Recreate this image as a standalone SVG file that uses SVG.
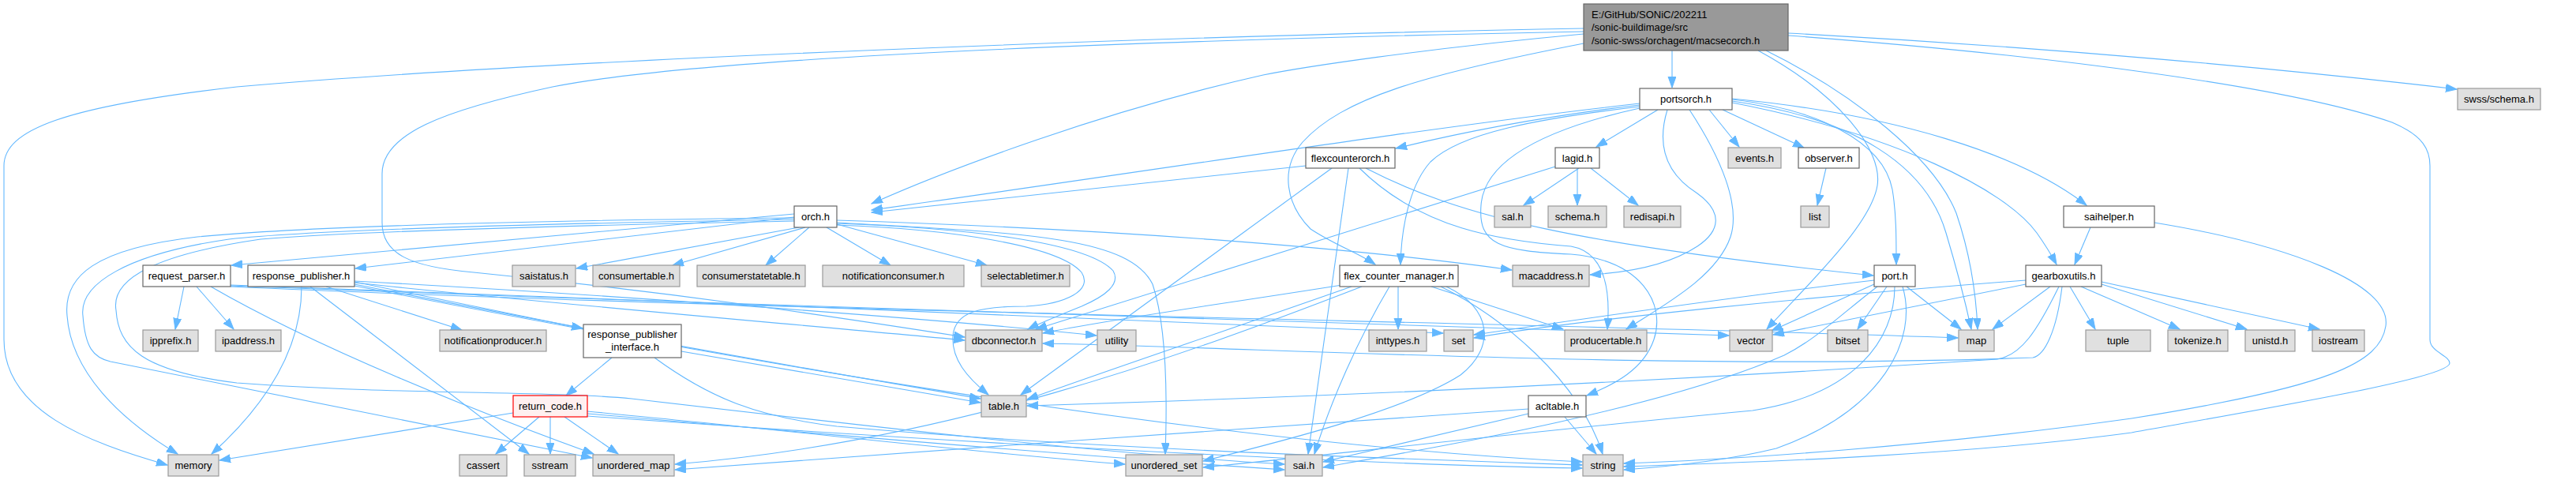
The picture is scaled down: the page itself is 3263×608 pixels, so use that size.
<svg xmlns="http://www.w3.org/2000/svg" width="3263" height="608" viewBox="0 0 3263 608">
<defs>
<marker id="ah" markerWidth="15" markerHeight="11" refX="14" refY="5" orient="auto" markerUnits="userSpaceOnUse"><path d="M0,0 L14,5 L0,10 Z" fill="#63b8ff" stroke="#63b8ff"/></marker>
</defs>
<style>
.e path{fill:none;stroke:#63b8ff;stroke-width:1.1;marker-end:url(#ah)}
.n rect{fill:#ffffff;stroke:#666666;stroke-width:1.2}
.x rect{fill:#e0e0e0;stroke:#999999;stroke-width:1.2}
.r rect{fill:#999999;stroke:#666666;stroke-width:1.2}
.t rect{fill:#fff0f0;stroke:#ff0000;stroke-width:1.2}
text{font-family:"Liberation Sans",Arial,sans-serif;font-size:13px;fill:#000;text-anchor:middle}
.r text{text-anchor:start}
</style>
<rect width="3263" height="608" fill="#ffffff"/>
<g id="edges" class="e">
<path d="M2118,64 L2118,111"/>
<path d="M2006,43 C1800,62 1650,85 1600,95 C1400,140 1200,215 1104,258"/>
<path d="M2006,55 C1800,95 1700,125 1650,180 C1620,215 1630,260 1660,290 C1690,310 1720,320 1742,335"/>
<path d="M2265,42 C2600,60 2900,88 3112,113"/>
<path d="M2265,45 C2600,70 2900,110 3030,155 C3070,172 3078,190 3078,210 L3078,430 C3078,446 3103,450 3103,460 C3103,478 2900,512 2700,548 C2500,575 2250,585 2057,591"/>
<path d="M2237,64 C2350,120 2450,200 2478,270 C2495,320 2503,370 2505,417"/>
<path d="M2227,64 C2330,120 2385,190 2378,235 C2370,285 2290,360 2238,417"/>
<path d="M2006,36 C1500,45 700,75 300,110 C80,135 5,165 5,210 L5,430 C5,520 110,560 212,589"/>
<path d="M2006,40 C1500,50 900,70 700,110 C560,140 484,170 484,220 L484,282 C484,322 520,338 600,345 C850,370 1050,400 1222,427"/>
<path d="M2077,131 C1800,162 1400,225 1104,266"/>
<path d="M2077,133 C1950,148 1850,168 1768,188"/>
<path d="M2077,135 C1950,150 1850,168 1812,205 C1785,235 1775,290 1774,335"/>
<path d="M2077,137 C1950,165 1880,205 1876,260 C1872,310 1900,318 1990,322 C2080,330 2110,385 2095,430 C2082,468 2045,487 2010,501"/>
<path d="M2100,139 L2022,186"/>
<path d="M2112,139 C2098,185 2110,220 2150,245 C2182,268 2180,292 2150,312 C2115,335 2065,345 2014,348"/>
<path d="M2140,139 C2180,200 2205,260 2192,300 C2175,350 2110,385 2060,417"/>
<path d="M2165,139 L2203,186"/>
<path d="M2182,139 L2285,187"/>
<path d="M2194,126 C2300,138 2385,178 2397,240 C2402,270 2402,300 2402,335"/>
<path d="M2194,128 C2350,150 2440,210 2465,295 C2480,345 2490,385 2497,417"/>
<path d="M2194,130 C2400,170 2540,240 2580,295 C2592,312 2598,322 2605,335"/>
<path d="M2194,125 C2400,145 2560,195 2643,260"/>
<path d="M2648,288 L2628,335"/>
<path d="M2729,282 C2900,310 3030,360 3022,413 C3015,460 2950,490 2700,530 C2450,565 2200,582 2057,587"/>
<path d="M2313,213 L2302,260"/>
<path d="M2000,213 L1930,260"/>
<path d="M1998,213 L1998,260"/>
<path d="M2015,213 L2075,260"/>
<path d="M1970,211 L1312,417"/>
<path d="M1654,210 L1104,269"/>
<path d="M1687,213 L1293,500"/>
<path d="M1708,213 L1657,575"/>
<path d="M1730,213 C1850,275 2000,310 2373,349"/>
<path d="M1722,213 C1800,290 1900,305 1990,312 C2035,320 2040,370 2036,417"/>
<path d="M1006,271 L293,336"/>
<path d="M1006,275 L450,340"/>
<path d="M1012,288 L730,340"/>
<path d="M1020,288 L852,336"/>
<path d="M1025,288 L970,336"/>
<path d="M1047,288 L1128,336"/>
<path d="M1060,284 L1250,336"/>
<path d="M1060,279 C1400,290 1700,312 1915,342"/>
<path d="M1006,276 C700,279 400,286 250,300 C120,315 80,350 85,400 C90,470 150,530 225,575"/>
<path d="M1006,278 C700,283 400,291 290,303 C160,322 100,360 105,400 C108,440 118,453 140,458 L750,580"/>
<path d="M1006,280 C700,286 450,293 330,303 C200,322 140,352 147,393 C150,440 180,470 300,485 C500,500 700,495 800,505 C1100,540 1400,575 1627,588"/>
<path d="M1060,282 C1300,295 1430,300 1460,360 C1480,420 1478,520 1476,575"/>
<path d="M1060,285 C1200,290 1340,310 1370,345 C1385,368 1350,385 1300,388 C1240,388 1210,395 1207,425 C1205,455 1225,478 1252,500"/>
<path d="M1060,283 C1250,290 1380,310 1410,343 C1420,360 1400,375 1370,388 C1345,398 1320,408 1302,417"/>
<path d="M233,363 L222,417"/>
<path d="M249,363 L296,417"/>
<path d="M267,363 C400,440 600,520 752,575"/>
<path d="M292,361 C800,380 1500,405 1828,422"/>
<path d="M292,362 C1000,390 1800,410 2190,425"/>
<path d="M292,363 C1000,395 2000,410 2480,428"/>
<path d="M382,363 C382,440 340,510 268,575"/>
<path d="M413,363 L585,418"/>
<path d="M449,357 L738,416"/>
<path d="M393,363 L670,575"/>
<path d="M449,358 C700,385 1000,410 1222,431"/>
<path d="M449,360 C800,430 1100,480 1242,505"/>
<path d="M449,362 C900,450 1500,560 2004,585"/>
<path d="M449,356 C800,375 1200,405 1389,425"/>
<path d="M775,453 L717,501"/>
<path d="M863,445 L1242,510"/>
<path d="M829,453 C900,505 960,528 1060,540 C1400,570 1800,582 2004,589"/>
<path d="M650,523 L278,583"/>
<path d="M683,528 L628,575"/>
<path d="M697,528 L697,575"/>
<path d="M715,528 L783,575"/>
<path d="M744,521 C1000,545 1250,575 1425,588"/>
<path d="M744,524 C1100,555 1400,580 1627,595"/>
<path d="M744,527 C1200,560 1700,588 2004,593"/>
<path d="M1771,363 L1771,417"/>
<path d="M1760,363 C1720,430 1685,510 1665,575"/>
<path d="M1813,363 L1980,417"/>
<path d="M1825,363 C1900,400 2000,480 2030,575"/>
<path d="M1700,361 C1550,385 1420,402 1321,422"/>
<path d="M1712,363 C1550,420 1400,470 1301,506"/>
<path d="M1832,363 C1890,390 1895,440 1850,475 C1780,520 1620,560 1524,584"/>
<path d="M1725,363 C1500,450 1200,560 855,588"/>
<path d="M2374,360 L2244,419"/>
<path d="M2390,363 L2353,417"/>
<path d="M2415,363 L2484,417"/>
<path d="M2374,355 C2200,375 2000,405 1867,424"/>
<path d="M2378,363 C2330,400 2300,430 2260,450 C2100,520 1800,570 1676,592"/>
<path d="M2410,363 C2430,430 2385,520 2250,568 C2180,585 2100,592 2057,595"/>
<path d="M2400,363 C2400,430 2350,500 2220,520 C1900,550 1700,575 1524,592"/>
<path d="M2597,363 L2524,417"/>
<path d="M2622,363 L2654,417"/>
<path d="M2636,363 L2761,417"/>
<path d="M2662,360 L2846,417"/>
<path d="M2662,357 L2938,417"/>
<path d="M2566,360 L2246,424"/>
<path d="M2566,355 C2300,375 2000,405 1867,428"/>
<path d="M2608,363 C2580,420 2560,450 2530,455 C2000,490 1600,505 1301,514"/>
<path d="M2612,363 C2605,420 2590,450 2575,453 C2100,470 1600,440 1321,435"/>
<path d="M1936,524 L1676,585"/>
<path d="M1982,528 L2022,575"/>
<path d="M1936,518 C1600,540 1200,570 855,595"/>
</g>
<g id="n_root" class="r"><rect x="2006" y="5" width="259" height="59"/><text x="2016" y="23">E:/GitHub/SONiC/202211</text><text x="2016" y="39">/sonic-buildimage/src</text><text x="2016" y="56">/sonic-swss/orchagent/macsecorch.h</text></g>
<g id="n_portsorch" class="n"><rect x="2077" y="112" width="117" height="27"/><text x="2135.5" y="130">portsorch.h</text></g>
<g id="n_swss_schema" class="x"><rect x="3113" y="112" width="105" height="27"/><text x="3165.5" y="130">swss/schema.h</text></g>
<g id="n_flexcounterorch" class="n"><rect x="1654" y="187" width="113" height="26"/><text x="1710.5" y="205">flexcounterorch.h</text></g>
<g id="n_lagid" class="n"><rect x="1970" y="187" width="56" height="26"/><text x="1998" y="205">lagid.h</text></g>
<g id="n_events" class="x"><rect x="2189" y="187" width="67" height="26"/><text x="2222.5" y="205">events.h</text></g>
<g id="n_observer" class="n"><rect x="2278" y="187" width="77" height="26"/><text x="2316.5" y="205">observer.h</text></g>
<g id="n_orch" class="n"><rect x="1006" y="261" width="54" height="27"/><text x="1033" y="279">orch.h</text></g>
<g id="n_sal" class="x"><rect x="1893" y="261" width="46" height="27"/><text x="1916" y="279">sal.h</text></g>
<g id="n_schema" class="x"><rect x="1961" y="261" width="74" height="27"/><text x="1998" y="279">schema.h</text></g>
<g id="n_redisapi" class="x"><rect x="2057" y="261" width="72" height="27"/><text x="2093" y="279">redisapi.h</text></g>
<g id="n_list" class="x"><rect x="2281" y="261" width="36" height="27"/><text x="2299" y="279">list</text></g>
<g id="n_saihelper" class="n"><rect x="2614" y="261" width="115" height="27"/><text x="2671.5" y="279">saihelper.h</text></g>
<g id="n_request_parser" class="n"><rect x="181" y="336" width="111" height="27"/><text x="236.5" y="354">request_parser.h</text></g>
<g id="n_response_publisher" class="n"><rect x="314" y="336" width="135" height="27"/><text x="381.5" y="354">response_publisher.h</text></g>
<g id="n_saistatus" class="x"><rect x="649" y="336" width="80" height="27"/><text x="689" y="354">saistatus.h</text></g>
<g id="n_consumertable" class="x"><rect x="751" y="336" width="110" height="27"/><text x="806" y="354">consumertable.h</text></g>
<g id="n_consumerstatetable" class="x"><rect x="883" y="336" width="137" height="27"/><text x="951.5" y="354">consumerstatetable.h</text></g>
<g id="n_notificationconsumer" class="x"><rect x="1042" y="336" width="179" height="27"/><text x="1131.5" y="354">notificationconsumer.h</text></g>
<g id="n_selectabletimer" class="x"><rect x="1243" y="336" width="112" height="27"/><text x="1299" y="354">selectabletimer.h</text></g>
<g id="n_flex_counter_manager" class="n"><rect x="1697" y="336" width="150" height="27"/><text x="1772" y="354">flex_counter_manager.h</text></g>
<g id="n_macaddress" class="x"><rect x="1916" y="336" width="97" height="27"/><text x="1964.5" y="354">macaddress.h</text></g>
<g id="n_port" class="n"><rect x="2374" y="336" width="52" height="27"/><text x="2400" y="354">port.h</text></g>
<g id="n_gearboxutils" class="n"><rect x="2566" y="336" width="96" height="27"/><text x="2614" y="354">gearboxutils.h</text></g>
<g id="n_ipprefix" class="x"><rect x="181" y="418" width="70" height="27"/><text x="216" y="436">ipprefix.h</text></g>
<g id="n_ipaddress" class="x"><rect x="273" y="418" width="83" height="27"/><text x="314.5" y="436">ipaddress.h</text></g>
<g id="n_notificationproducer" class="x"><rect x="557" y="418" width="135" height="27"/><text x="624.5" y="436">notificationproducer.h</text></g>
<g id="n_response_publisher_interface" class="n"><rect x="739" y="411" width="124" height="42"/><text x="801" y="428">response_publisher</text><text x="801" y="444">_interface.h</text></g>
<g id="n_dbconnector" class="x"><rect x="1223" y="418" width="97" height="27"/><text x="1271.5" y="436">dbconnector.h</text></g>
<g id="n_utility" class="x"><rect x="1390" y="418" width="49" height="27"/><text x="1414.5" y="436">utility</text></g>
<g id="n_inttypes" class="x"><rect x="1734" y="418" width="73" height="27"/><text x="1770.5" y="436">inttypes.h</text></g>
<g id="n_set" class="x"><rect x="1829" y="418" width="37" height="27"/><text x="1847.5" y="436">set</text></g>
<g id="n_producertable" class="x"><rect x="1982" y="418" width="104" height="27"/><text x="2034" y="436">producertable.h</text></g>
<g id="n_vector" class="x"><rect x="2191" y="418" width="54" height="27"/><text x="2218" y="436">vector</text></g>
<g id="n_bitset" class="x"><rect x="2315" y="418" width="51" height="27"/><text x="2340.5" y="436">bitset</text></g>
<g id="n_map" class="x"><rect x="2481" y="418" width="45" height="27"/><text x="2503.5" y="436">map</text></g>
<g id="n_tuple" class="x"><rect x="2642" y="418" width="82" height="27"/><text x="2683" y="436">tuple</text></g>
<g id="n_tokenize" class="x"><rect x="2746" y="418" width="76" height="27"/><text x="2784" y="436">tokenize.h</text></g>
<g id="n_unistd" class="x"><rect x="2844" y="418" width="63" height="27"/><text x="2875.5" y="436">unistd.h</text></g>
<g id="n_iostream" class="x"><rect x="2929" y="418" width="66" height="27"/><text x="2962" y="436">iostream</text></g>
<g id="n_return_code" class="t"><rect x="650" y="501" width="94" height="27"/><text x="697" y="519">return_code.h</text></g>
<g id="n_table" class="x"><rect x="1243" y="501" width="57" height="27"/><text x="1271.5" y="519">table.h</text></g>
<g id="n_acltable" class="n"><rect x="1936" y="501" width="73" height="27"/><text x="1972.5" y="519">acltable.h</text></g>
<g id="n_memory" class="x"><rect x="213" y="576" width="64" height="27"/><text x="245" y="594">memory</text></g>
<g id="n_cassert" class="x"><rect x="582" y="576" width="60" height="27"/><text x="612" y="594">cassert</text></g>
<g id="n_sstream" class="x"><rect x="664" y="576" width="65" height="27"/><text x="696.5" y="594">sstream</text></g>
<g id="n_unordered_map" class="x"><rect x="751" y="576" width="103" height="27"/><text x="802.5" y="594">unordered_map</text></g>
<g id="n_unordered_set" class="x"><rect x="1426" y="576" width="97" height="27"/><text x="1474.5" y="594">unordered_set</text></g>
<g id="n_sai" class="x"><rect x="1628" y="576" width="47" height="27"/><text x="1651.5" y="594">sai.h</text></g>
<g id="n_string" class="x"><rect x="2005" y="576" width="51" height="27"/><text x="2030.5" y="594">string</text></g>
</svg>
